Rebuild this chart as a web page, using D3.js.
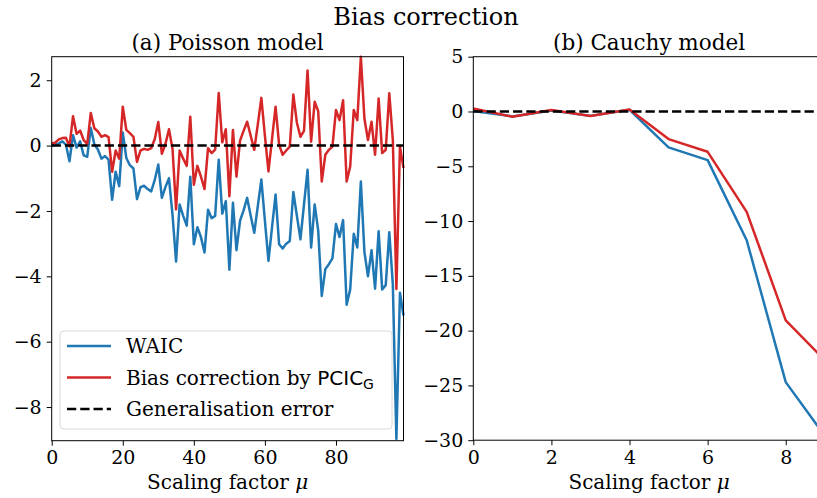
<!DOCTYPE html>
<html>
<head>
<meta charset="utf-8">
<script src="https://cdn.jsdelivr.net/npm/d3@7"></script>
<style>
  body { margin: 0; background: #fff; }
  text { font-family: "DejaVu Serif", serif; fill: #000; }
</style>
</head>
<body>
<svg id="fig" width="817" height="498"></svg>
<script>
// ---- data ----
var poissonMu = d3.range(0, 100);
var poissonWaic = [
   0.00,  0.02,  0.07,  0.13,  0.03, -0.48,  0.32, -0.06,  0.13, -0.30,
  -0.34,  0.54,  0.04, -0.12, -0.40, -0.32, -0.43, -1.66, -0.80, -1.24,
   0.40, -0.38, -0.60, -0.70, -1.64, -1.27, -1.23, -1.33, -1.40, -1.05,
  -0.58, -1.60, -1.27, -1.00, -2.12, -3.55, -1.80, -2.15, -2.45, -0.95,
  -3.02, -2.50, -2.80, -3.27, -1.96, -2.22, -2.15, -0.43, -2.08, -1.70,
  -3.80, -1.75, -3.20, -2.30, -1.98, -1.60, -2.15, -2.67, -1.85, -1.04,
  -2.30, -3.53, -2.50, -1.50, -3.02, -3.15, -3.00, -2.92, -1.42, -2.15,
  -2.87, -1.80, -0.74, -3.12, -1.80, -2.60, -4.60, -3.78, -3.63, -3.45,
  -2.40, -2.80, -2.28, -4.87, -4.40, -2.70, -3.12, -1.10, -3.25, -4.00,
  -3.20, -4.38, -2.62, -4.40, -4.27, -2.65, -4.25, -8.98, -4.50, -5.20
];
var poissonPcic = [
   0.07,  0.09,  0.19,  0.23,  0.24, -0.03,  0.90,  0.36,  0.46,  0.17,
   0.05,  1.00,  0.53,  0.43,  0.27,  0.32,  0.26, -0.80, -0.15, -0.40,
   1.19,  0.48,  0.38,  0.27, -0.50, -0.15, -0.10, -0.13, -0.08,  0.20,
   0.72, -0.25,  0.05,  0.50, -0.10, -1.95, -0.15, -0.40, -0.62,  0.88,
  -1.20, -0.62, -0.95, -1.33, -0.08, -0.23, -0.12,  1.61,  0.10,  0.50,
  -1.55,  0.48, -0.95,  0.15,  0.45,  0.73,  0.30, -0.13,  0.65,  1.46,
   0.30, -0.79,  0.20,  1.19,  0.02, -0.28, -0.15, -0.03,  1.56,  0.70,
   0.27,  0.45,  2.30,  0.12,  1.34,  1.05, -1.10, -0.28, -0.13, -0.03,
   1.09,  0.78,  1.39, -1.10, -0.64,  1.09,  0.78,  2.72,  0.83,  0.17,
   0.73, -0.28,  1.44, -0.23, -0.13,  1.60,  0.17, -4.39, -0.03, -0.69
];
var poissonGen = [0, 0];

var cauchyMu = [0, 1, 2, 3, 4, 5, 6, 7, 8, 9];
var cauchyWaic = [0.05, -0.45, 0.10, -0.40, 0.15, -3.28, -4.44, -11.75, -24.7, -29.6];
var cauchyPcic = [0.28, -0.48, 0.13, -0.42, 0.19, -2.52, -3.68, -9.16, -19.06, -22.7];
var cauchyGen = [0, 0];

var poissonXTicks = [0, 20, 40, 60, 80];
var poissonYTicks = [2, 0, -2, -4, -6, -8];
var cauchyXTicks = [0, 2, 4, 6, 8];
var cauchyYTicks = [5, 0, -5, -10, -15, -20, -25, -30];

var blue = '#1f77b4', red = '#d62728';
var lw = 2.5;

var svg = d3.select('#fig');

svg.append('text')
  .attr('x', 426).attr('y', 25)
  .attr('text-anchor', 'middle')
  .style('font-size', '24px')
  .text('Bias correction');

function drawPanel(opt) {
  var x = d3.scaleLinear().domain(opt.xDomain).range([opt.left, opt.right]);
  var y = d3.scaleLinear().domain(opt.yDomain).range([opt.bottom, opt.top]);
  var g = svg.append('g');

  var line = d3.line()
    .x(function(d){ return x(d[0]); })
    .y(function(d){ return y(d[1]); });

  g.append('path')
    .datum(d3.zip(opt.mu, opt.waic))
    .attr('fill', 'none').attr('stroke', blue).attr('stroke-width', lw)
    .attr('stroke-linejoin', 'round')
    .attr('d', line);

  g.append('path')
    .datum(d3.zip(opt.mu, opt.pcic))
    .attr('fill', 'none').attr('stroke', red).attr('stroke-width', lw)
    .attr('stroke-linejoin', 'round')
    .attr('d', line);

  g.append('path')
    .datum(d3.zip(opt.xDomain, opt.gen))
    .attr('fill', 'none').attr('stroke', '#000').attr('stroke-width', lw)
    .attr('stroke-dasharray', '9.25,4')
    .attr('d', line);

  // spines
  g.append('rect')
    .attr('x', opt.left).attr('y', opt.top)
    .attr('width', opt.right - opt.left).attr('height', opt.bottom - opt.top)
    .attr('fill', 'none').attr('stroke', '#000').attr('stroke-width', 1);

  var xAxis = g.append('g')
    .attr('transform', 'translate(0,' + opt.bottom + ')')
    .call(d3.axisBottom(x).tickValues(opt.xTicks).tickSize(5).tickPadding(5).tickFormat(d3.format('d')));
  var yAxis = g.append('g')
    .attr('transform', 'translate(' + opt.left + ',0)')
    .call(d3.axisLeft(y).tickValues(opt.yTicks).tickSize(5).tickPadding(5).tickFormat(d3.format('d')));

  [xAxis, yAxis].forEach(function(a){
    a.select('.domain').remove();
    a.selectAll('line').attr('stroke', '#000').attr('stroke-width', 1);
    a.selectAll('text')
      .style('font-family', '"DejaVu Serif", serif')
      .style('font-size', '19px')
      .attr('fill', '#000');
  });

  var cx = (opt.left + opt.right) / 2;
  svg.append('text')
    .attr('x', cx).attr('y', 50)
    .attr('text-anchor', 'middle')
    .style('font-size', '21.5px')
    .text(opt.title);

  var xl = svg.append('text')
    .attr('x', cx).attr('y', 489)
    .attr('text-anchor', 'middle')
    .style('font-size', '20px');
  xl.append('tspan').text('Scaling factor ');
  xl.append('tspan').style('font-style', 'italic').text('μ');

  return g;
}

drawPanel({
  left: 51.7, right: 403.5, top: 56.7, bottom: 440.7,
  xDomain: [0, 99], yDomain: [-9.03, 2.72],
  mu: poissonMu, waic: poissonWaic, pcic: poissonPcic, gen: poissonGen,
  xTicks: poissonXTicks, yTicks: poissonYTicks,
  title: '(a) Poisson model'
});

drawPanel({
  left: 473.3, right: 824.8, top: 56.7, bottom: 440.2,
  xDomain: [0, 9], yDomain: [-30, 5],
  mu: cauchyMu, waic: cauchyWaic, pcic: cauchyPcic, gen: cauchyGen,
  xTicks: cauchyXTicks, yTicks: cauchyYTicks,
  title: '(b) Cauchy model'
});

// legend on panel (a)
var legend = svg.append('g');
legend.append('rect')
  .attr('x', 60).attr('y', 331).attr('width', 332).attr('height', 98)
  .attr('rx', 4)
  .attr('fill', '#fff').attr('fill-opacity', 0.8)
  .attr('stroke', '#d9d9d9').attr('stroke-width', 1);

var legendItems = [
  { label: 'WAIC', color: blue, dash: null },
  { label: 'Bias correction by ', color: red, dash: null, math: true },
  { label: 'Generalisation error', color: '#000', dash: '9.25,4' }
];

legendItems.forEach(function(d, i){
  var cy = 346 + i * 31.5;
  legend.append('line')
    .attr('x1', 67).attr('x2', 111).attr('y1', cy).attr('y2', cy)
    .attr('stroke', d.color).attr('stroke-width', lw)
    .attr('stroke-dasharray', d.dash);
  var t = legend.append('text')
    .attr('x', 126).attr('y', cy + 7)
    .style('font-size', '20px')
    .text(d.label);
  if (d.math) {
    t.append('tspan').style('font-family', '"DejaVu Sans", sans-serif').text('PCIC');
    t.append('tspan').style('font-family', '"DejaVu Sans", sans-serif')
      .style('font-size', '14px').attr('dy', 4).text('G');
  }
});
</script>
</body>
</html>
